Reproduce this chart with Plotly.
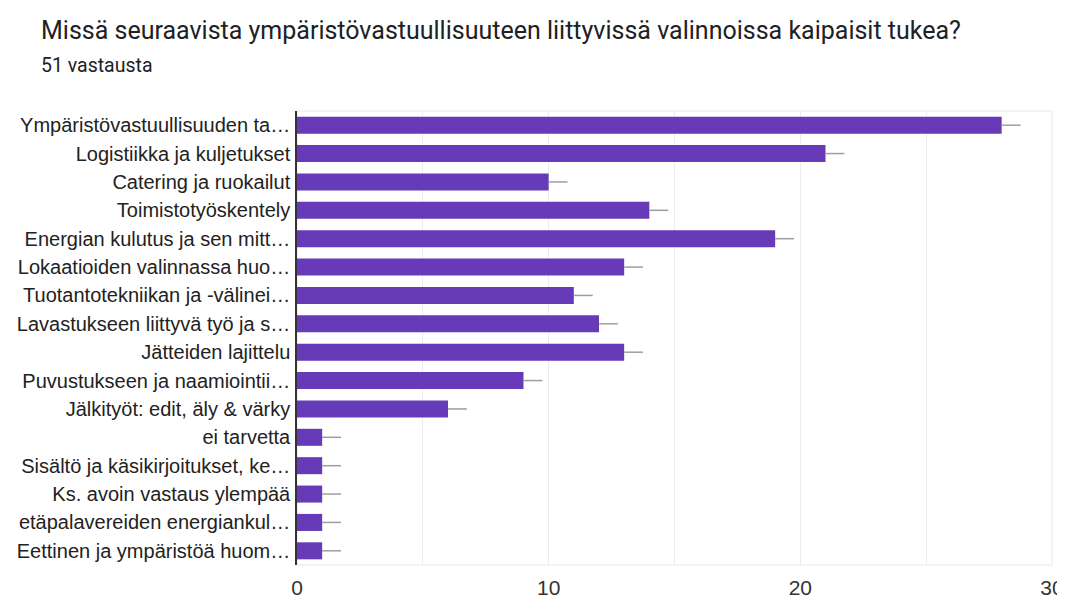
import plotly.graph_objects as go

categories = [
    "Ympäristövastuullisuuden ta…",
    "Logistiikka ja kuljetukset",
    "Catering ja ruokailut",
    "Toimistotyöskentely",
    "Energian kulutus ja sen mitt…",
    "Lokaatioiden valinnassa huo…",
    "Tuotantotekniikan ja -välinei…",
    "Lavastukseen liittyvä työ ja s…",
    "Jätteiden lajittelu",
    "Puvustukseen ja naamiointii…",
    "Jälkityöt: edit, äly & värky",
    "ei tarvetta",
    "Sisältö ja käsikirjoitukset, ke…",
    "Ks. avoin vastaus ylempää",
    "etäpalavereiden energiankul…",
    "Eettinen ja ympäristöä huom…",
]
values = [28, 21, 10, 14, 19, 13, 11, 12, 13, 9, 6, 1, 1, 1, 1, 1]
whisker = [0.75] * len(values)
x_ticks = [0, 10, 20, 30]

W, H = 1057, 591
L, R, T, B = 289, 13, 103, 34
PW, PH = W - L - R, H - T - B

fig = go.Figure()
fig.add_trace(go.Bar(
    y=categories, x=values, orientation="h",
    marker=dict(color="#673ab7", line=dict(width=0)),
    error_x=dict(type="data", symmetric=False, array=whisker,
                 arrayminus=[0] * len(values), width=0,
                 color="#9e9e9e", thickness=1.5),
    hoverinfo="x+y",
))

fig.add_shape(type="rect", xref="paper", yref="paper", x0=0, x1=1, y0=0, y1=1,
              line=dict(color="#e8e8e8", width=1), layer="below")

fig.update_layout(
    width=W, height=H,
    margin=dict(l=L, r=R, t=T, b=B, autoexpand=False),
    paper_bgcolor="white", plot_bgcolor="white",
    bargap=0.4,
    showlegend=False,
    font=dict(family="Arial, Liberation Sans, sans-serif", color="#222"),
    annotations=[
        dict(text="Missä seuraavista ympäristövastuullisuuteen liittyvissä valinnoissa kaipaisit tukea?",
             xref="paper", yref="paper", x=(31 - L) / PW, y=1 + (T - 22) / PH,
             xanchor="left", yanchor="middle", showarrow=False,
             font=dict(family="Roboto, sans-serif", size=25, color="#202124")),
        dict(text="51 vastausta",
             xref="paper", yref="paper", x=(31 - L) / PW, y=1 + (T - 57) / PH,
             xanchor="left", yanchor="middle", showarrow=False,
             font=dict(family="Roboto, sans-serif", size=19.5, color="#202124")),
    ],
)
fig.update_xaxes(range=[0, 30], tickvals=x_ticks, ticktext=[str(v) for v in x_ticks],
                 showgrid=False, zeroline=False, showline=False, automargin=False,
                 minor=dict(dtick=5, showgrid=True, gridcolor="#ececec", gridwidth=1, tick0=0),
                 ticks="", ticklabelstandoff=8,
                 tickfont=dict(size=21, color="#333", family="Arial, Liberation Sans, sans-serif"))
fig.update_yaxes(categoryorder="array", categoryarray=categories, autorange="reversed",
                 showline=True, linecolor="#333", linewidth=1.5, showgrid=False,
                 automargin=False, ticks="", ticklabelstandoff=1,
                 tickfont=dict(size=20, color="#222", family="Arial, Liberation Sans, sans-serif"))

fig.write_html("out.html")
